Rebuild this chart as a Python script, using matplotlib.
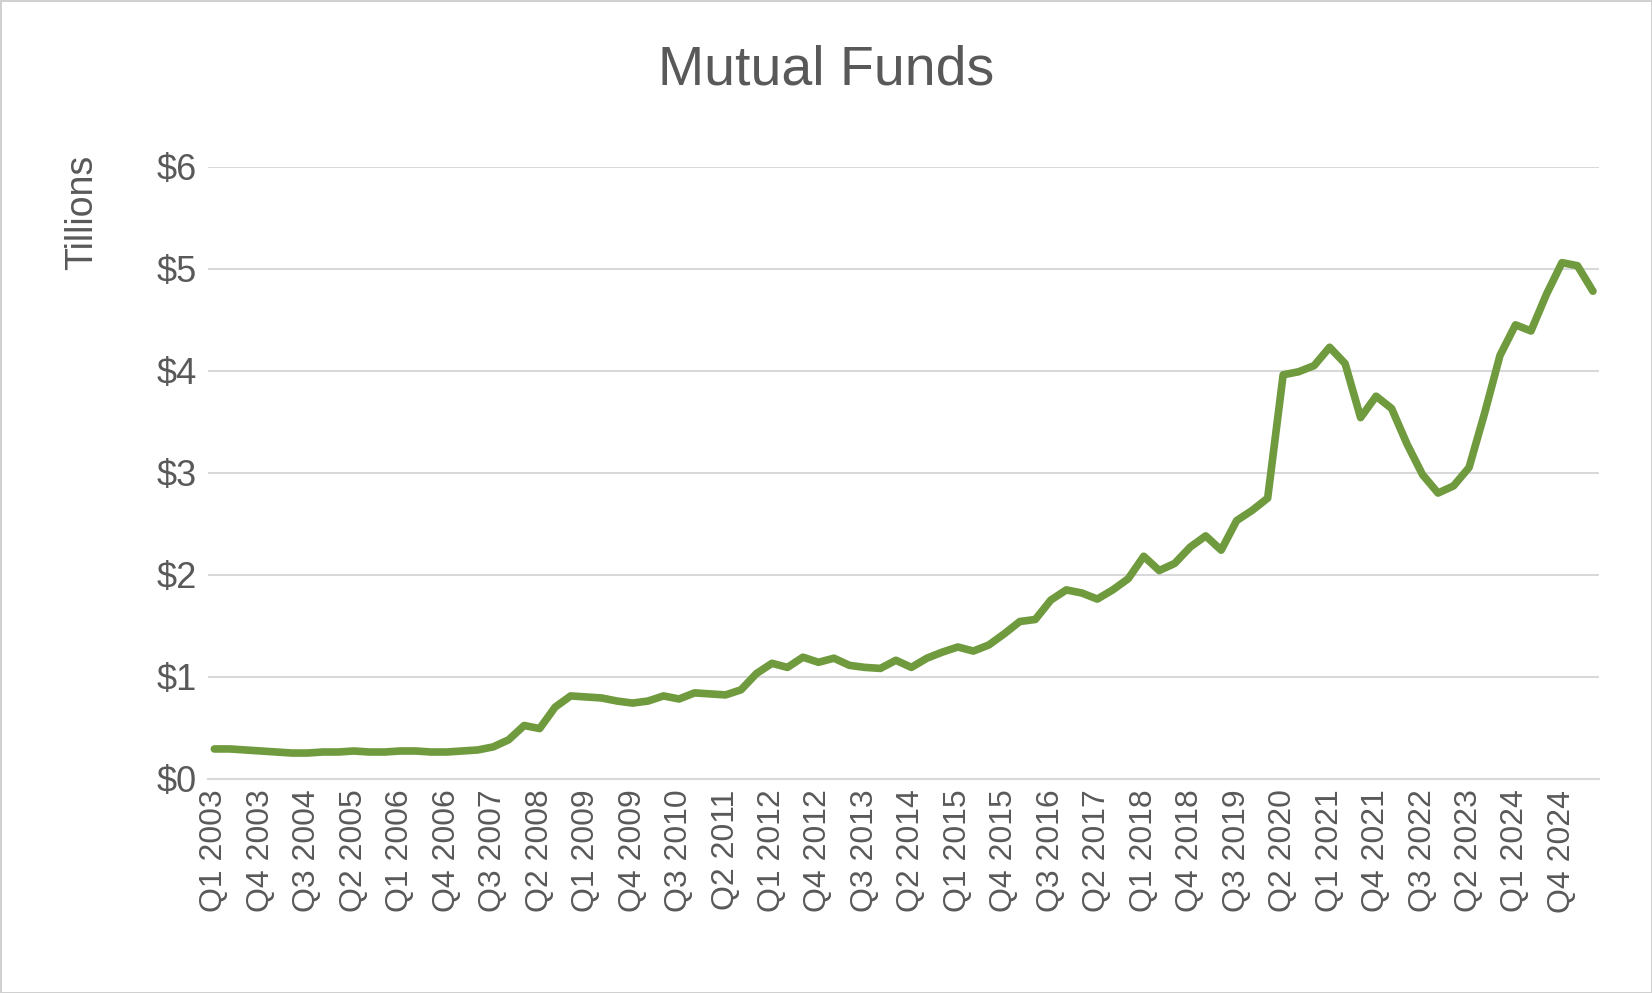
import matplotlib
matplotlib.use("Agg")
import matplotlib.pyplot as plt

plt.rcParams['font.family'] = ['Liberation Sans', 'DejaVu Sans']

values = [0.29,0.29,0.28,0.27,0.26,0.25,0.25,0.26,0.26,0.27,0.26,0.26,0.27,0.27,0.26,0.26,
          0.27,0.28,0.31,
          0.38,0.52,0.49,0.70,0.81,0.80,0.79,0.76,0.74,0.76,
          0.81,0.78,0.84,0.83,0.82,0.87,1.03,1.13,1.09,1.19,
          1.14,1.18,1.11,1.09,1.08,1.16,1.09,1.18,1.24,1.29,
          1.25,1.31,1.42,1.54,1.56,1.75,1.85,1.82,1.76,1.85,
          1.96,2.18,2.04,2.11,2.27,2.38,2.24,2.53,2.63,2.75,
          3.96,3.99,4.05,4.23,4.07,3.54,3.75,3.63,3.28,2.98,
          2.80,2.87,3.05,3.58,4.15,4.45,4.39,4.75,5.06,5.03,
          4.78]
quarters = [f"Q{q} {y}" for y in range(2003, 2026) for q in range(1, 5)][:len(values)]
tick_idx = list(range(0, len(values) - 2, 3))
yticks = [0, 1, 2, 3, 4, 5, 6]
ylabels = ["$0", "$1", "$2", "$3", "$4", "$5", "$6"]

fig = plt.figure(figsize=(16.52, 9.93), dpi=100)
fig.patch.set_edgecolor("#d0d0d0"); fig.patch.set_linewidth(2)
ax = fig.add_axes([0.126, 0.216, 0.842, 0.616])
x = list(range(len(values)))
ax.plot(x, values, color="#6f9a3e", lw=5.5, solid_joinstyle="round", solid_capstyle="round")
ax.set_ylim(0, 6)
ax.set_xlim(-0.4, len(values) - 0.6)
ax.set_yticks(yticks)
ax.set_yticklabels(ylabels, fontsize=26, color="#595959")
ax.set_xticks(tick_idx)
ax.set_xticklabels([quarters[i] for i in tick_idx], rotation=90, fontsize=23, color="#595959")
ax.grid(axis="y", color="#d9d9d9", lw=1.5)
ax.set_axisbelow(True)
for s in ["top", "right", "left"]:
    ax.spines[s].set_visible(False)
ax.spines["bottom"].set_color("#d9d9d9"); ax.spines["bottom"].set_linewidth(1.5)
ax.tick_params(length=0, pad=8)
ax.set_ylabel("Tillions", fontsize=27, color="#595959", loc="top")
ax.yaxis.set_label_coords(-0.078, 1.02)
fig.suptitle("Mutual Funds", fontsize=40, color="#595959", y=0.955)
fig.savefig("out.png", dpi=100, edgecolor=fig.get_edgecolor())
